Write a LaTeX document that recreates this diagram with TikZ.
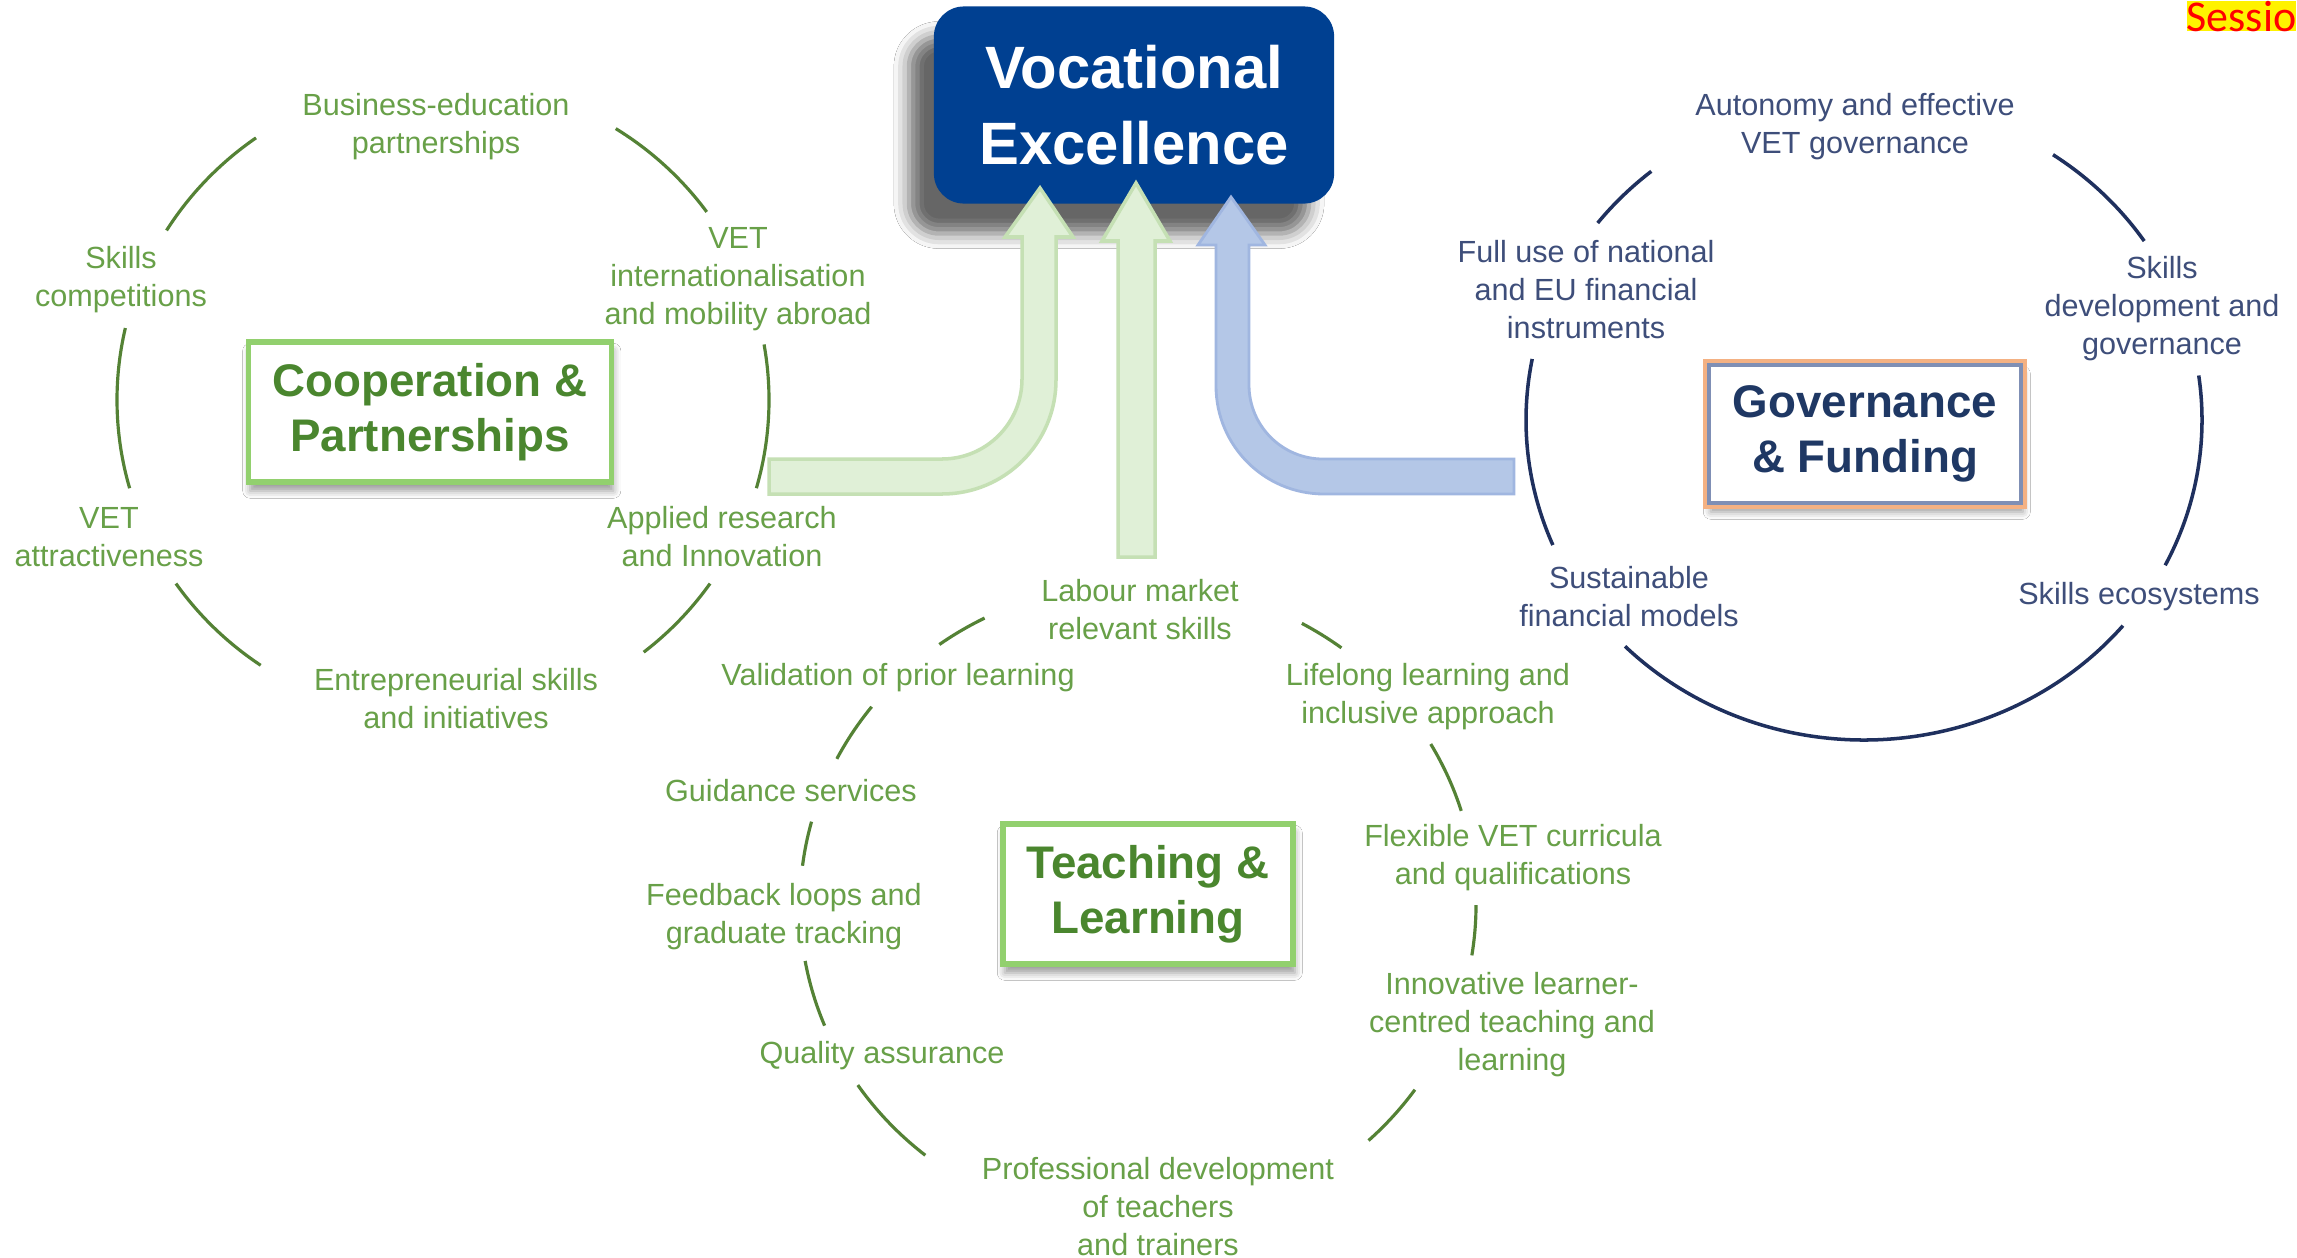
\documentclass[tikz,border=0pt]{standalone}
\usepackage{fontspec}
\setmainfont{Liberation Sans}
\newfontfamily\tagfont{Carlito}
\usetikzlibrary{calc,positioning,shadows.blur}
\definecolor{VetBlue}{RGB}{0,64,145}
\definecolor{CoopText}{RGB}{74,134,46}
\definecolor{CoopLabel}{RGB}{104,160,72}
\definecolor{CoopLine}{RGB}{84,130,53}
\definecolor{CoopBorder}{RGB}{146,208,110}
\definecolor{GovText}{RGB}{31,56,100}
\definecolor{GovLabel}{RGB}{62,78,122}
\definecolor{GovLine}{RGB}{31,48,94}
\definecolor{GovBorder}{RGB}{127,143,181}
\definecolor{GovGlow}{RGB}{244,177,131}
\definecolor{ArrowGreen}{RGB}{224,240,215}
\definecolor{ArrowGreenLine}{RGB}{197,224,180}
\definecolor{ArrowBlue}{RGB}{180,199,231}
\definecolor{ArrowBlueLine}{RGB}{160,182,224}
\tikzstyle{GreenLabel} = [text=CoopLabel, align=center,
    font=\fontsize{8.7}{10.8}\selectfont]
\tikzstyle{BlueLabel} = [GreenLabel, text=GovLabel]
\tikzstyle{GreenBox} = [rectangle, draw=CoopBorder, line width=1.5pt, fill=white,
    text=CoopText, align=center, inner sep=0pt, minimum height=1.4cm,
    font=\fontsize{13}{15.6}\selectfont\bfseries,
    blur shadow={shadow xshift=0.5pt, shadow yshift=-2.5pt}]
\tikzstyle{BlueBox} = [GreenBox, draw=GovBorder, line width=1pt, text=GovText,
    preaction={draw=GovGlow, line width=3.5pt}]
\tikzstyle{MainBox} = [rectangle, rounded corners=0.3cm, fill=VetBlue, text=white,
    align=center, minimum width=4cm, minimum height=1.97cm,
    font=\fontsize{17}{21.6}\selectfont\bfseries,
    blur shadow={shadow xshift=-0.25cm, shadow yshift=-0.3cm,
        shadow blur radius=0.15cm, shadow opacity=60}]
\tikzstyle{GreenArc} = [draw=CoopLine, line width=0.9pt]
\tikzstyle{BlueArc} = [draw=GovLine, line width=1pt]
\tikzstyle{GreenArrow} = [fill=ArrowGreen, draw=ArrowGreenLine, line width=1pt]
\tikzstyle{BlueArrow} = [fill=ArrowBlue, draw=ArrowBlueLine, line width=0.8pt]

\begin{document}
\begin{tikzpicture}[x=0.01cm, y=-0.01cm]
        \useasboundingbox (0,0) rectangle (2297,1257);
        \fill [white] (0,0) rectangle (2297,1257);
        \node [fill=yellow, text=red, inner sep=0pt, anchor=base east,
            font=\tagfont\fontsize{12.5}{13}\selectfont] (Session) at (2297,31) {Sessio}; %session tag

        \coordinate (CoopCentre) at (443,400);
        \coordinate (GovCentre) at (1864,420);
        \coordinate (TeachCentre) at (1138,905);

        %Cooperation & Partnerships circle
        \draw [GreenArc] (CoopCentre) ++(-148:326 and 320) arc[start angle=-148, end angle=-125, x radius=326, y radius=320]; %upper left
        \draw [GreenArc] (CoopCentre) ++(-58:326 and 320) arc[start angle=-58, end angle=-36, x radius=326, y radius=320]; %upper right
        \draw [GreenArc] (CoopCentre) ++(164:326 and 320) arc[start angle=164, end angle=193, x radius=326, y radius=320]; %left
        \draw [GreenArc] (CoopCentre) ++(-10:326 and 320) arc[start angle=-10, end angle=16, x radius=326, y radius=320]; %right
        \draw [GreenArc] (CoopCentre) ++(124:326 and 320) arc[start angle=124, end angle=145, x radius=326, y radius=320]; %lower left
        \draw [GreenArc] (CoopCentre) ++(35:326 and 320) arc[start angle=35, end angle=52, x radius=326, y radius=320]; %lower right
        \node [GreenBox, minimum width=3.63cm] (Cooperation) at (430,412) {Cooperation \&\\Partnerships};
        \node [GreenLabel] (BusinessEdu) at (436,127) {Business-education\\partnerships};
        \node [GreenLabel] (SkillsComp) at (121,280) {Skills\\competitions};
        \node [GreenLabel] (Mobility) at (738,279) {VET\\internationalisation\\and mobility abroad};
        \node [GreenLabel] (Attractive) at (109,537) {VET\\attractiveness};
        \node [GreenLabel] (Research) at (722,537) {Applied research\\and Innovation};
        \node [GreenLabel] (Entrepreneur) at (456,699) {Entrepreneurial skills\\and initiatives};

        %Governance & Funding circle
        \draw [BlueArc] (GovCentre) ++(-142:338 and 320) arc[start angle=-142, end angle=-129, x radius=338, y radius=320]; %upper left
        \draw [BlueArc] (GovCentre) ++(-56:338 and 320) arc[start angle=-56, end angle=-34, x radius=338, y radius=320]; %upper right
        \draw [BlueArc] (GovCentre) ++(157:338 and 320) arc[start angle=157, end angle=191, x radius=338, y radius=320]; %left
        \draw [BlueArc] (GovCentre) ++(-8:338 and 320) arc[start angle=-8, end angle=27, x radius=338, y radius=320]; %right
        \draw [BlueArc] (GovCentre) ++(40:338 and 320) arc[start angle=40, end angle=135, x radius=338, y radius=320]; %bottom
        \node [BlueBox, minimum width=3.12cm, minimum height=1.38cm] (Governance) at (1865,434) {Governance\\\& Funding};
        \node [BlueLabel] (Autonomy) at (1855,127) {Autonomy and effective\\VET governance};
        \node [BlueLabel] (FullUse) at (1586,290) {Full use of national\\and EU financial\\instruments};
        \node [BlueLabel] (SkillsDev) at (2162,309) {Skills\\development and\\governance};
        \node [BlueLabel] (Sustainable) at (1629,597) {Sustainable\\financial models};
        \node [BlueLabel] (Ecosystems) at (2139,597) {Skills ecosystems};

        %Teaching & Learning circle
        \draw [GreenArc] (TeachCentre) ++(-126:338 and 322) arc[start angle=-126, end angle=-117, x radius=338, y radius=322]; %top left
        \draw [GreenArc] (TeachCentre) ++(-61:338 and 322) arc[start angle=-61, end angle=-53, x radius=338, y radius=322]; %top right
        \draw [GreenArc] (TeachCentre) ++(-153:338 and 322) arc[start angle=-153, end angle=-142, x radius=338, y radius=322];
        \draw [GreenArc] (TeachCentre) ++(-30:338 and 322) arc[start angle=-30, end angle=-17, x radius=338, y radius=322];
        \draw [GreenArc] (TeachCentre) ++(187:338 and 322) arc[start angle=187, end angle=195, x radius=338, y radius=322];
        \draw [GreenArc] (TeachCentre) ++(0:338 and 322) arc[start angle=0, end angle=9, x radius=338, y radius=322];
        \draw [GreenArc] (TeachCentre) ++(158:338 and 322) arc[start angle=158, end angle=170, x radius=338, y radius=322];
        \draw [GreenArc] (TeachCentre) ++(35:338 and 322) arc[start angle=35, end angle=47, x radius=338, y radius=322];
        \draw [GreenArc] (TeachCentre) ++(129:338 and 322) arc[start angle=129, end angle=146, x radius=338, y radius=322]; %bottom left
        \node [GreenBox, minimum width=2.9cm] (Teaching) at (1148,894) {Teaching \&\\Learning};
        \node [GreenLabel] (Labour) at (1140,610) {Labour market\\relevant skills};
        \node [GreenLabel] (Validation) at (898,678) {Validation of prior learning};
        \node [GreenLabel] (Lifelong) at (1428,697) {Lifelong learning and\\inclusive approach};
        \node [GreenLabel] (Guidance) at (791,791) {Guidance services};
        \node [GreenLabel] (Flexible) at (1513,858) {Flexible VET curricula\\and qualifications};
        \node [GreenLabel] (Feedback) at (784,917) {Feedback loops and\\graduate tracking};
        \node [GreenLabel] (Innovative) at (1512,1025) {Innovative learner-\\centred teaching and\\learning};
        \node [GreenLabel] (Quality) at (882,1056) {Quality assurance};
        \node [GreenLabel] (Professional) at (1158,1207) {Professional development\\of teachers\\and trainers};

        %Vocational Excellence and its three arrows
        \node [MainBox] (Excellence) at (1134,105) {Vocational\\Excellence};
        \draw [GreenArrow] (769,459) -- (942,459) arc[start angle=90, end angle=0, radius=80]
            -- (1022,237) -- (1005,237) -- (1040,188) -- (1073,237) -- (1056,237)
            -- (1056,380) arc[start angle=0, end angle=90, radius=114] -- (769,494) -- cycle; %from cooperation
        \draw [GreenArrow] (1118,557) -- (1118,241) -- (1102,241) -- (1136,183)
            -- (1170,241) -- (1155,241) -- (1155,557) -- cycle; %from teaching
        \draw [BlueArrow] (1514,459) -- (1323,459) arc[start angle=90, end angle=180, radius=74]
            -- (1249,245) -- (1265,245) -- (1231,197) -- (1198,245) -- (1216,245)
            -- (1216,386) arc[start angle=180, end angle=90, radius=108] -- (1514,494) -- cycle; %from governance
    \end{tikzpicture}
\end{document}
